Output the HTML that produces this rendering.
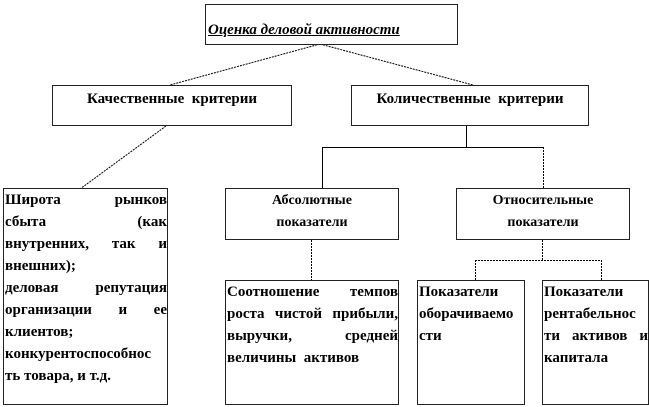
<!DOCTYPE html>
<html><head><meta charset="utf-8"><style>
body{margin:0;width:649px;height:407px;background:#fff;position:relative;overflow:hidden;font-family:"Liberation Serif","Times New Roman",serif;font-weight:bold;color:#000}
.b{position:absolute;border:1px solid #222;box-sizing:border-box;background:#fff}
.c{text-align:center;font-size:14px}
.j{font-size:15px;line-height:22px;padding:0 0 0 1px}
.j div{white-space:nowrap;height:22px}
.f{text-align:justify;text-align-last:justify;white-space:normal!important}
svg{position:absolute;left:0;top:0}
</style></head><body>
<svg width="649" height="407">
<g stroke="#000" stroke-width="1" fill="none">
<line x1="320" y1="44" x2="170" y2="85" stroke-dasharray="2,1"/>
<line x1="320" y1="44" x2="473" y2="85" stroke-dasharray="2,1"/>
<line x1="166" y1="126" x2="80" y2="189" stroke-dasharray="2,1"/>
<line x1="466.5" y1="126" x2="466.5" y2="147"/>
<line x1="322" y1="147.5" x2="543" y2="147.5"/>
<line x1="322.5" y1="147" x2="322.5" y2="188"/>
<line x1="543.5" y1="147" x2="543.5" y2="188" stroke-dasharray="2,1"/>
<line x1="311.5" y1="240" x2="311.5" y2="280" stroke-dasharray="2,1"/>
<line x1="542.5" y1="240" x2="542.5" y2="260" stroke-dasharray="2,1"/>
<line x1="475" y1="260.5" x2="601" y2="260.5" stroke-dasharray="2,1"/>
<line x1="475.5" y1="260" x2="475.5" y2="280" stroke-dasharray="2,1"/>
<line x1="601.5" y1="260" x2="601.5" y2="280" stroke-dasharray="2,1"/>
</g></svg>
<div class="b" style="left:205px;top:4px;width:253px;height:41px"><div style="position:absolute;left:2px;top:17px;font-size:15px;font-style:italic;text-decoration:underline">Оценка деловой активности</div></div>
<div class="b c" style="left:52px;top:85px;width:240px;height:41px;padding-top:5px;font-size:15px">Качественные&nbsp; критерии</div>
<div class="b c" style="left:351px;top:85px;width:238px;height:41px;padding-top:5px;font-size:15px">Количественные&nbsp; критерии</div>
<div class="b j" style="left:3px;top:188px;width:165px;height:217px">
<div class="f">Широта рынков</div><div class="f">сбыта (как</div><div class="f">внутренних, так и</div><div>внешних);</div><div class="f">деловая репутация</div><div class="f">организации и ее</div><div>клиентов;</div><div>конкурентоспособнос</div><div>ть товара, и т.д.</div></div>
<div class="b c" style="left:225px;top:188px;width:174px;height:52px;line-height:22px;padding-top:1px">Абсолютные<br>показатели</div>
<div class="b c" style="left:456px;top:188px;width:174px;height:52px;line-height:22px;padding-top:1px">Относительные<br>показатели</div>
<div class="b j" style="left:225px;top:280px;width:174px;height:125px">
<div class="f">Соотношение темпов</div><div class="f">роста чистой прибыли,</div><div class="f">выручки, средней</div><div>величины&nbsp; активов</div></div>
<div class="b j" style="left:417px;top:280px;width:108px;height:125px">
<div>Показатели</div><div>оборачиваемо</div><div>сти</div></div>
<div class="b j" style="left:542px;top:280px;width:107px;height:125px">
<div>Показатели</div><div>рентабельнос</div><div class="f">ти активов и</div><div>капитала</div></div>
</body></html>
